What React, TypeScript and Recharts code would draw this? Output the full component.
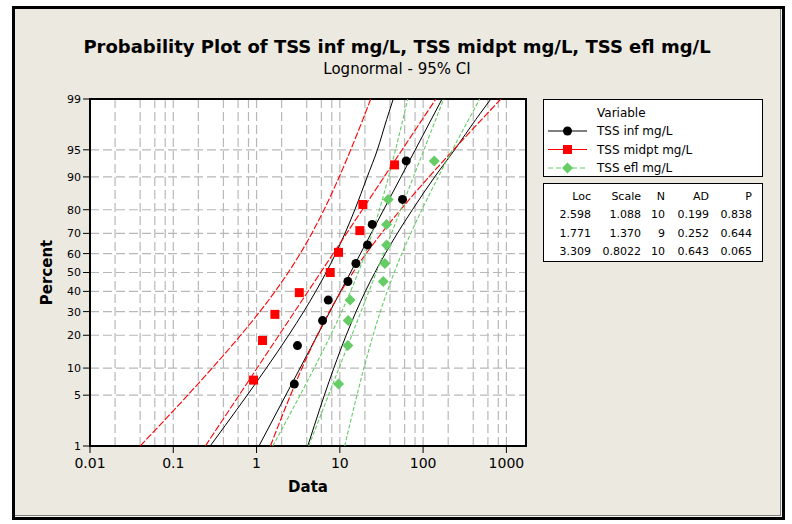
import React from 'react'
import {
  ScatterChart,
  Scatter,
  XAxis,
  YAxis,
  CartesianGrid,
  ReferenceArea,
} from 'recharts'

// ---- data ----
const seriesNames = ['TSS inf mg/L', 'TSS midpt mg/L', 'TSS efl mg/L']

// plotted points: percent (median ranks) and data value
const infPct = [6.73, 16.35, 25.96, 35.58, 45.19, 54.81, 64.42, 74.04, 83.65, 93.27]
const infData = [2.84, 3.1, 6.2, 7.26, 12.5, 15.6, 21.5, 24.5, 56.6, 62.7]
const midptPct = [7.45, 18.09, 28.72, 39.36, 50, 60.64, 71.28, 81.91, 92.55]
const midptData = [0.92, 1.18, 1.66, 3.26, 7.67, 9.64, 17.4, 18.9, 45.4]
const eflPct = [6.73, 16.35, 25.96, 35.58, 45.19, 54.81, 64.42, 74.04, 83.65, 93.27]
const eflData = [9.65, 12.5, 12.6, 13.3, 33.2, 34.8, 36.4, 36.4, 38.1, 136]

// fitted lines (ends at 1% and 99%)
const fitPct = [1, 99]
const infFit = [1.069, 168.9]
const midptFit = [0.2427, 142.3]
const eflFit = [4.233, 176.8]

// 95% confidence bands
const ciPct = [1, 2, 5, 10, 20, 30, 40, 50, 60, 70, 80, 90, 95, 98, 99]
const infLow = [0.2773, 0.4192, 0.7721, 1.311, 2.426, 3.682, 5.135, 6.846, 8.911, 11.53, 15.14, 21.32, 28.24, 36.57, 43.78]
const infHigh = [4.124, 4.936, 6.522, 8.468, 11.92, 15.67, 20.26, 26.37, 35.16, 49.02, 74.42, 137.7, 238.5, 430.7, 651.3]
const midptLow = [0.0401, 0.0681, 0.149, 0.2934, 0.6437, 1.095, 1.67, 2.401, 3.343, 4.607, 6.459, 9.829, 13.51, 18.93, 23.52]
const midptHigh = [1.468, 1.824, 2.557, 3.514, 5.347, 7.496, 10.33, 14.38, 20.68, 31.54, 53.65, 117.7, 231.7, 506.9, 860.9]
const eflLow = [1.565, 2.122, 3.33, 4.92, 7.744, 10.53, 13.46, 16.64, 20.21, 24.43, 29.88, 38.46, 46.61, 57.25, 65.37]
const eflHigh = [11.45, 13.07, 16.06, 19.46, 25.05, 30.63, 37.03, 44.98, 55.6, 71.06, 96.64, 152.1, 224.8, 352.7, 478.4]

// stats table
const tableHead = ['Loc', 'Scale', 'N', 'AD', 'P']
const locs = ['2.598', '1.771', '3.309']
const scales = ['1.088', '1.370', '0.8022']
const ns = ['10', '9', '10']
const ads = ['0.199', '0.252', '0.643']
const ps = ['0.838', '0.644', '0.065']

// axes
const xTicks = [0.01, 0.1, 1, 10, 100, 1000]
const xGrid = [
  0.02, 0.04, 0.06, 0.08, 0.1, 0.2, 0.4, 0.6, 0.8, 1, 2, 4, 6, 8, 10,
  20, 40, 60, 80, 100, 200, 400, 600, 800, 1000,
]
const xDomain = [0.01, 1720]
const yTickPct = [1, 5, 10, 20, 30, 40, 50, 60, 70, 80, 90, 95, 99]
const yGridPct = [5, 10, 20, 30, 40, 50, 60, 70, 80, 90, 95]

const BG = '#ECE9E0'
const GREEN = '#66CC66'
const FONT = '"DejaVu Sans", Verdana, sans-serif'

// normal quantile (Acklam) - used for the probability scale
function probit(p: number): number {
  const a = [-39.69683028665376, 220.9460984245205, -275.9285104469687, 138.357751867269, -30.66479806614716, 2.506628277459239]
  const b = [-54.47609879822406, 161.5858368580409, -155.6989798598866, 66.80131188771972, -13.28068155288572]
  const c = [-0.007784894002430293, -0.3223964580411365, -2.400758277161838, -2.549732539343734, 4.374664141464968, 2.938163982698783]
  const d = [0.007784695709041462, 0.3224671290700398, 2.445134137142996, 3.754408661907416]
  const lo = 0.02425
  if (p < lo) {
    const q = Math.sqrt(-2 * Math.log(p))
    return (((((c[0] * q + c[1]) * q + c[2]) * q + c[3]) * q + c[4]) * q + c[5]) /
      ((((d[0] * q + d[1]) * q + d[2]) * q + d[3]) * q + 1)
  }
  if (p > 1 - lo) {
    const q = Math.sqrt(-2 * Math.log(1 - p))
    return -(((((c[0] * q + c[1]) * q + c[2]) * q + c[3]) * q + c[4]) * q + c[5]) /
      ((((d[0] * q + d[1]) * q + d[2]) * q + d[3]) * q + 1)
  }
  const q = p - 0.5
  const r = q * q
  return ((((((a[0] * r + a[1]) * r + a[2]) * r + a[3]) * r + a[4]) * r + a[5]) * q) /
    (((((b[0] * r + b[1]) * r + b[2]) * r + b[3]) * r + b[4]) * r + 1)
}

const toZ = (pct: number) => probit(pct / 100)
const pts = (xs: number[], pcts: number[]) => xs.map((x, i) => ({ x, z: toZ(pcts[i]) }))

const yDomain = [toZ(1), toZ(99)]
const yTicks = yTickPct.map(toZ)
const yGrid = yGridPct.map(toZ)
const yLabel = (v: number) => {
  const i = yTicks.findIndex((t) => Math.abs(t - v) < 1e-6)
  return i >= 0 ? String(yTickPct[i]) : ''
}

const noDot = () => <g />
const dotCircle = (p: any) => <circle cx={p.cx} cy={p.cy} r={4.5} fill="#000" />
const dotSquare = (p: any) => <rect x={p.cx - 4.5} y={p.cy - 4.5} width={9} height={9} fill="#FF0000" />
const dotDiamond = (p: any) => (
  <polygon
    points={`${p.cx},${p.cy - 5.5} ${p.cx + 5.5},${p.cy} ${p.cx},${p.cy + 5.5} ${p.cx - 5.5},${p.cy}`}
    fill={GREEN}
  />
)

const blackLine = { stroke: '#000', strokeWidth: 1 }
const redLine = { stroke: '#FF0000', strokeWidth: 1.1, strokeDasharray: '7 2' }
const greenLine = { stroke: GREEN, strokeWidth: 1.1, strokeDasharray: '4 2' }

const App: React.FC = () => {
  const tableCols = [591, 641, 665, 709, 752]
  const tableRows = [locs, scales, ns, ads, ps]
  return (
    <div
      style={{
        position: 'absolute',
        left: 0,
        top: 0,
        width: 792,
        height: 524,
        background: '#fff',
        fontFamily: FONT,
      }}
    >
      {/* outer frame */}
      <div
        style={{
          position: 'absolute',
          left: 12,
          top: 6,
          width: 773,
          height: 514,
          boxSizing: 'border-box',
          border: '3px solid #000',
          background: BG,
          boxShadow: 'inset -1px -1px 0 #f6f4ee, inset -2px -2px 0 #808080',
        }}
      />
      <div style={{ position: 'absolute', left: 0, top: 0 }}>
        <ScatterChart width={792} height={524} margin={{ top: 99, right: 266, bottom: 0, left: 0 }}>
          <CartesianGrid
            fill="#fff"
            fillOpacity={1}
            stroke="#b8b8b8"
            strokeWidth={1.2}
            strokeDasharray="9 4"
            verticalValues={xGrid}
            horizontalValues={yGrid}
          />
          <XAxis
            type="number"
            dataKey="x"
            scale="log"
            domain={xDomain}
            allowDataOverflow
            ticks={xTicks}
            interval={0}
            height={78}
            tickSize={7}
            tickMargin={5}
            axisLine={{ stroke: '#000', strokeWidth: 2 }}
            tickLine={{ stroke: '#000' }}
            tick={{ fontSize: 14, fill: '#000' }}
            tickFormatter={(v: number) => String(v)}
            label={{ value: 'Data', position: 'center', dy: 2, fontSize: 15, fontWeight: 'bold', fill: '#000' }}
          />
          <YAxis
            type="number"
            dataKey="z"
            domain={yDomain}
            allowDataOverflow
            ticks={yTicks}
            interval={0}
            width={90}
            tickSize={7}
            tickMargin={2}
            axisLine={{ stroke: '#000', strokeWidth: 2 }}
            tickLine={{ stroke: '#000' }}
            tick={{ fontSize: 11, fill: '#000' }}
            tickFormatter={yLabel}
            label={{ value: 'Percent', angle: -90, position: 'center', dx: 2, fontSize: 15, fontWeight: 'bold', fill: '#000' }}
          />

          {/* confidence bands and fits */}
          <Scatter data={pts(infLow, ciPct)} line={blackLine} lineJointType="monotoneX" shape={noDot} isAnimationActive={false} />
          <Scatter data={pts(infHigh, ciPct)} line={blackLine} lineJointType="monotoneX" shape={noDot} isAnimationActive={false} />
          <Scatter data={pts(infFit, fitPct)} line={blackLine} shape={noDot} isAnimationActive={false} />
          <Scatter data={pts(midptLow, ciPct)} line={redLine} lineJointType="monotoneX" shape={noDot} isAnimationActive={false} />
          <Scatter data={pts(midptHigh, ciPct)} line={redLine} lineJointType="monotoneX" shape={noDot} isAnimationActive={false} />
          <Scatter data={pts(midptFit, fitPct)} line={redLine} shape={noDot} isAnimationActive={false} />
          <Scatter data={pts(eflLow, ciPct)} line={greenLine} lineJointType="monotoneX" shape={noDot} isAnimationActive={false} />
          <Scatter data={pts(eflHigh, ciPct)} line={greenLine} lineJointType="monotoneX" shape={noDot} isAnimationActive={false} />
          <Scatter data={pts(eflFit, fitPct)} line={greenLine} shape={noDot} isAnimationActive={false} />

          {/* data points */}
          <Scatter name={seriesNames[0]} data={pts(infData, infPct)} shape={dotCircle} isAnimationActive={false} />
          <Scatter name={seriesNames[1]} data={pts(midptData, midptPct)} shape={dotSquare} isAnimationActive={false} />
          <Scatter name={seriesNames[2]} data={pts(eflData, eflPct)} shape={dotDiamond} isAnimationActive={false} />

          <ReferenceArea
            x1={xDomain[0]}
            x2={xDomain[1]}
            y1={yDomain[0]}
            y2={yDomain[1]}
            fill="none"
            stroke="#000"
            strokeWidth={2}
            ifOverflow="visible"
          />
        </ScatterChart>
      </div>

      {/* title, legend and stats table */}
      <svg
        width={792}
        height={524}
        style={{ position: 'absolute', left: 0, top: 0, pointerEvents: 'none' }}
        fontFamily={FONT}
      >
        <text x={397} y={53} textAnchor="middle" fontSize={18} fontWeight="bold" fill="#000">
          Probability Plot of TSS inf mg/L, TSS midpt mg/L, TSS efl mg/L
        </text>
        <text x={397} y={74} textAnchor="middle" fontSize={15} fill="#000">
          Lognormal - 95% CI
        </text>

        <rect x={543.5} y={99.5} width={219} height={77} fill="#fff" stroke="#000" />
        <text x={597} y={113} fontSize={12} dominantBaseline="central">Variable</text>
        {seriesNames.map((name, i) => {
          const y = 131 + i * 18.5
          return (
            <g key={name}>
              {i === 0 && <line x1={548} x2={587} y1={y} y2={y} stroke="#000" />}
              {i === 1 && <line x1={548} x2={587} y1={y} y2={y} stroke="#FF0000" />}
              {i === 2 && <line x1={548} x2={587} y1={y} y2={y} stroke={GREEN} strokeDasharray="5 3" />}
              {i === 0 && dotCircle({ cx: 567.5, cy: y })}
              {i === 1 && dotSquare({ cx: 567.5, cy: y })}
              {i === 2 && dotDiamond({ cx: 567.5, cy: y })}
              <text x={597} y={y} fontSize={12} dominantBaseline="central">{name}</text>
            </g>
          )
        })}

        <rect x={543.5} y={183.5} width={219} height={78} fill="#fff" stroke="#000" />
        {tableHead.map((h, c) => (
          <text key={h} x={tableCols[c]} y={196.5} fontSize={11} textAnchor="end" dominantBaseline="central">{h}</text>
        ))}
        {locs.map((_, r) =>
          tableRows.map((col, c) => (
            <text
              key={`${r}-${c}`}
              x={tableCols[c]}
              y={214.5 + r * 18.7}
              fontSize={11}
              textAnchor="end"
              dominantBaseline="central"
            >
              {col[r]}
            </text>
          )),
        )}
      </svg>
    </div>
  )
}

export default App
